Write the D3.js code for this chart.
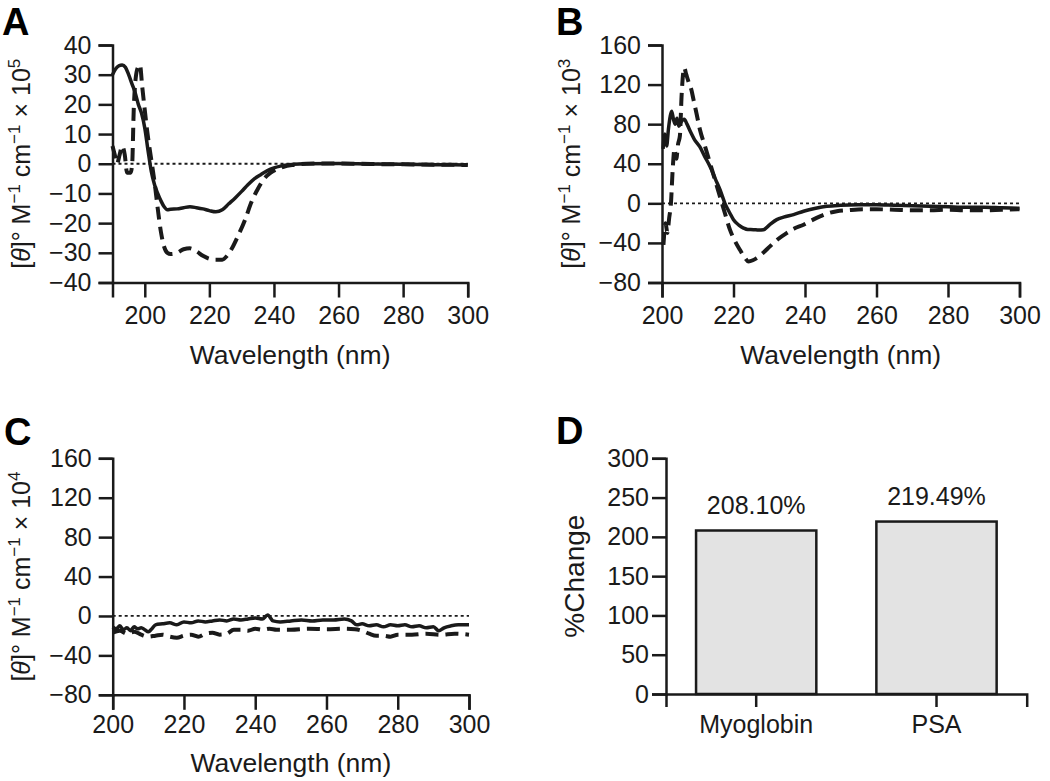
<!DOCTYPE html>
<html>
<head>
<meta charset="utf-8">
<script src="https://cdn.jsdelivr.net/npm/d3@7"></script>
<style>
  html, body { margin: 0; padding: 0; background: #fff; }
  svg { display: block; font-family: "Liberation Sans", Arial, sans-serif; }
</style>
</head>
<body>
<svg id="chart" width="1050" height="781"></svg>
<script>
// ---------------- DATA ----------------
// Panel A (x 10^5), wavelength nm -> value
const aXTicks = [200, 220, 240, 260, 280, 300];
const aYTicks = [-40, -30, -20, -10, 0, 10, 20, 30, 40];
const aSolid = [[190,30],[191,32],[192,33],[193,33.3],[194,32.5],[195,30],[196,27],[197,24],[198,20],[199,17],[200,12],[201,4.5],[202,-2.5],[203,-7],[204,-10],[205,-12.5],[206,-14.5],[207,-15.5],[208,-15.3],[210,-15.2],[212,-14.8],[214,-14.5],[216,-14.8],[218,-15.2],[220,-15.8],[222,-16.2],[224,-15.5],[226,-13.5],[228,-11.5],[230,-9.3],[232,-7],[234,-5],[236,-3.6],[238,-2.3],[240,-1.4],[242,-0.8],[244,-0.4],[246,-0.2],[250,0],[260,0.1],[270,-0.1],[280,-0.2],[290,-0.3],[300,-0.4]];
const aDashed = [[190,6],[190.7,3],[191.4,0],[192.2,3],[193,6],[193.8,3],[194.5,-3],[195.6,-3],[196.1,0],[196.6,19],[197.6,31.6],[198.5,33.3],[199.2,26],[200,18],[200.7,11.4],[201.5,5],[202.2,0],[203,-6],[204,-15],[205,-23],[206,-28],[207,-30],[208,-30.4],[210,-30],[212,-28.8],[214,-28.5],[216,-29.5],[218,-31],[220,-32],[222,-32.3],[224,-32.3],[225.5,-31],[227,-28.5],[229,-24],[231,-19],[233,-13],[235,-8.5],[237,-5],[239,-3],[241,-1.8],[243,-1],[246,-0.4],[250,0],[260,0.1],[270,-0.1],[280,-0.2],[290,-0.3],[300,-0.4]];

// Panel B (x 10^3)
const bXTicks = [200, 220, 240, 260, 280, 300];
const bYTicks = [-80, -40, 0, 40, 80, 120, 160];
const bSolid = [[200.3,55],[200.8,70],[201.3,58],[201.8,75],[202.3,88],[202.7,93],[203.2,85],[203.7,80],[204.2,86],[204.7,78],[205.3,82],[206.2,85],[207,80],[208,72],[209,65],[210.6,57],[212,47],[213.4,37.5],[215,24],[216.2,14],[217.6,0],[219,-10],[220,-16.5],[221.5,-22],[222.8,-25],[224,-26.5],[225.6,-26.6],[227,-27],[228.4,-26.6],[230,-22],[232.1,-16.5],[234,-14],[236.8,-11.4],[239.6,-8],[243,-5],[246.1,-3],[250,-2],[255,-1.5],[260,-1.5],[265,-2],[270,-2.5],[275,-3],[280,-3.5],[285,-4],[290,-4],[295,-4.5],[300,-5]];
const bDashed = [[200.4,-42],[201,-20],[201.5,-30],[202,-15],[202.5,0],[203,35],[203.5,55],[204,45],[204.5,60],[205,68],[205.5,110],[206.2,137],[206.8,130],[207.5,122],[208.2,115],[208.8,105],[209.7,90],[210.6,74.6],[212,58],[213.4,41],[214.8,24],[216.2,7],[217.6,-10],[219,-26.6],[220.4,-38],[221.8,-47],[223,-54],[224.2,-58.7],[225.4,-57.5],[226.5,-55.3],[228.3,-50],[230.2,-43.5],[232.5,-36],[234.9,-30],[237,-25.5],[239.6,-21.6],[242,-17],[244.2,-13.2],[246.5,-10],[248.9,-8],[252,-7],[256.4,-6],[260,-6],[265,-6.5],[270,-7],[275,-7],[280,-6.5],[285,-7],[290,-7],[295,-6.5],[300,-6]];

// Panel C (x 10^4)
const cXTicks = [200, 220, 240, 260, 280, 300];
const cYTicks = [-80, -40, 0, 40, 80, 120, 160];
const cSolid = [[200,-11],[201,-13],[202,-10],[203,-14],[204,-12],[205,-15],[206,-11],[207,-13],[208,-12],[209,-14],[210,-16],[211,-13],[212,-9],[214,-8],[216,-7],[218,-9],[220,-6],[222,-7],[224,-5],[226,-6],[228,-5],[230,-4],[232,-5],[234,-3],[236,-4],[238,-3],[240,-2],[242,-3],[243.5,1],[245,-5],[247,-6],[250,-5],[253,-4],[256,-5],[259,-4],[262,-4],[265,-3],[267,-5],[268.5,-9],[270,-8],[272,-10],[274,-9],[276,-11],[278,-9],[280,-10],[282,-9],[284,-11],[286,-10],[288,-12],[290,-11],[291.5,-15],[293,-12],[295,-10],[297,-9],[300,-9]];
const cDashed = [[200,-17],[202,-15],[204,-18],[206,-16],[208,-19],[210,-21],[212,-20],[214,-19],[216,-21],[218,-22],[220,-20],[222,-19],[224,-21],[226,-18],[228,-17],[230,-19],[232,-18],[234,-14],[236,-14],[238,-15],[240,-13],[242,-14],[244,-13],[246,-14],[250,-14],[255,-13],[260,-13.5],[265,-13],[268,-13.5],[270,-15],[272,-18],[274,-20],[276,-20],[278,-21],[280,-19],[284,-19],[288,-18],[292,-19],[296,-18],[300,-19]];

// Panel D
const dCategories = ["Myoglobin", "PSA"];
const dValues = [208.10, 219.49];
const dYTicks = [0, 50, 100, 150, 200, 250, 300];

// ---------------- DRAW ----------------
const svg = d3.select("#chart");
const INK = "#1a1a1a";
const TICK_FONT = 25;

function yLabel(x, yc, exp) {
  const t = svg.append("text")
    .attr("transform", `translate(${x},${yc}) rotate(-90)`)
    .attr("text-anchor", "middle")
    .attr("font-size", 25)
    .attr("fill", INK);
  t.append("tspan").text("[");
  t.append("tspan").attr("font-style", "italic").text("θ");
  t.append("tspan").text("]° M");
  t.append("tspan").attr("dy", -10).attr("font-size", 17).text("−1");
  t.append("tspan").attr("dy", 10).text(" cm");
  t.append("tspan").attr("dy", -10).attr("font-size", 17).text("−1");
  t.append("tspan").attr("dy", 10).text(" × 10");
  t.append("tspan").attr("dy", -10).attr("font-size", 17).text(exp);
}

function styleAxis(g) {
  g.selectAll("path.domain").attr("stroke", INK).attr("stroke-width", 2.5);
  g.selectAll(".tick line").attr("stroke", INK).attr("stroke-width", 2.5);
  g.selectAll(".tick text").attr("font-size", TICK_FONT).attr("fill", INK)
    .attr("font-family", "'Liberation Sans', Arial, sans-serif");
}

function cdPanel(opt) {
  const x = d3.scaleLinear().domain(opt.xDomain).range(opt.xRange);
  const y = d3.scaleLinear().domain(opt.yDomain).range(opt.yRange);
  const gx = svg.append("g").attr("transform", `translate(0,${opt.yRange[0]})`)
    .call(d3.axisBottom(x).tickValues(opt.xTicks).tickFormat(d3.format("d"))
      .tickSizeOuter(0).tickSize(15).tickPadding(opt.xPad));
  styleAxis(gx);
  const gy = svg.append("g").attr("transform", `translate(${opt.xRange[0]},0)`)
    .call(d3.axisLeft(y).tickValues(opt.yTicks).tickFormat(d3.format("d"))
      .tickSizeOuter(0).tickSize(14).tickPadding(7));
  styleAxis(gy);

  // zero reference
  svg.append("line")
    .attr("x1", x(opt.xDomain[0])).attr("x2", x(opt.xDomain[1]))
    .attr("y1", y(0)).attr("y2", y(0))
    .attr("stroke", INK).attr("stroke-width", 1.8).attr("stroke-dasharray", "3,3");

  const line = d3.line().x(d => x(d[0])).y(d => y(d[1])).curve(d3.curveMonotoneX);
  svg.append("path").datum(opt.dashed).attr("d", line)
    .attr("fill", "none").attr("stroke", INK).attr("stroke-width", 4)
    .attr("stroke-dasharray", "13,7").attr("stroke-linejoin", "round");
  svg.append("path").datum(opt.solid).attr("d", line)
    .attr("fill", "none").attr("stroke", INK).attr("stroke-width", 3.5)
    .attr("stroke-linejoin", "round");

  svg.append("text")
    .attr("x", (opt.xRange[0] + opt.xRange[1]) / 2).attr("y", opt.titleY)
    .attr("text-anchor", "middle").attr("font-size", 26.5).attr("fill", INK)
    .text("Wavelength (nm)");

  yLabel(opt.yLabelX, (opt.yRange[0] + opt.yRange[1]) / 2, opt.exp);

  svg.append("text").attr("x", opt.letter[0]).attr("y", opt.letter[1])
    .attr("font-size", 38).attr("font-weight", "bold").attr("fill", "#000")
    .text(opt.letter[2]);
}

cdPanel({ xDomain: [190, 300], xRange: [112.5, 467.7], yDomain: [-40, 40], yRange: [282.5, 45],
  xTicks: aXTicks, yTicks: aYTicks, solid: aSolid, dashed: aDashed, xPad: 9,
  titleY: 364, yLabelX: 30, exp: "5", letter: [2, 35, "A"] });

cdPanel({ xDomain: [200, 300], xRange: [662, 1019.5], yDomain: [-80, 160], yRange: [282.5, 45],
  xTicks: bXTicks, yTicks: bYTicks, solid: bSolid, dashed: bDashed, xPad: 9,
  titleY: 364, yLabelX: 580, exp: "3", letter: [556, 35, "B"] });

cdPanel({ xDomain: [200, 300], xRange: [112.7, 469], yDomain: [-80, 160], yRange: [694.8, 458.3],
  xTicks: cXTicks, yTicks: cYTicks, solid: cSolid, dashed: cDashed, xPad: 5,
  titleY: 772, yLabelX: 30, exp: "4", letter: [4, 445, "C"] });

// Panel D
(function () {
  const x = d3.scaleBand().domain(dCategories).range([666, 1026.7])
    .paddingInner(0.333).paddingOuter(0.1667);
  const y = d3.scaleLinear().domain([0, 300]).range([694, 458.3]);

  svg.selectAll("rect.bar").data(dCategories).enter().append("rect")
    .attr("class", "bar")
    .attr("x", d => x(d)).attr("width", x.bandwidth())
    .attr("y", (d, i) => y(dValues[i])).attr("height", (d, i) => y(0) - y(dValues[i]))
    .attr("fill", "#e3e3e3").attr("stroke", INK).attr("stroke-width", 2.5);

  svg.selectAll("text.val").data(dCategories).enter().append("text")
    .attr("class", "val")
    .attr("x", d => x(d) + x.bandwidth() / 2)
    .attr("y", (d, i) => y(dValues[i]) - 17)
    .attr("text-anchor", "middle").attr("font-size", 25).attr("fill", INK)
    .text((d, i) => d3.format(".2f")(dValues[i]) + "%");

  const gx = svg.append("g").attr("transform", `translate(0,${y(0)})`)
    .call(d3.axisBottom(x).tickSizeOuter(0).tickSize(13).tickPadding(8));
  styleAxis(gx);
  const gy = svg.append("g").attr("transform", "translate(666,0)")
    .call(d3.axisLeft(y).tickValues(dYTicks).tickSizeOuter(0).tickSize(14).tickPadding(3));
  styleAxis(gy);

  svg.append("text")
    .attr("transform", `translate(584,${(458.3 + 694) / 2}) rotate(-90)`)
    .attr("text-anchor", "middle").attr("font-size", 28).attr("fill", INK)
    .text("%Change");

  svg.append("text").attr("x", 556).attr("y", 444)
    .attr("font-size", 38).attr("font-weight", "bold").attr("fill", "#000")
    .text("D");
})();
</script>
</body>
</html>
